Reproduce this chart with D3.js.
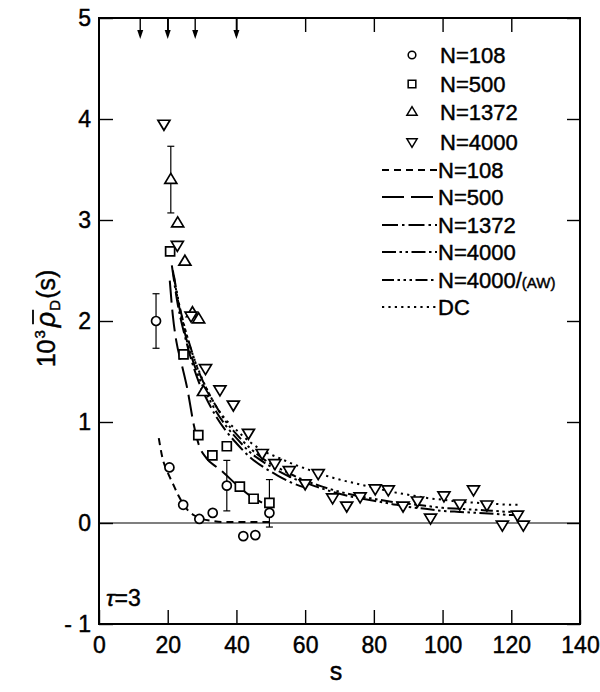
<!DOCTYPE html>
<html><head><meta charset="utf-8">
<script src="https://cdn.jsdelivr.net/npm/d3@7"></script>
<style>
body{margin:0;background:#fff}
svg{display:block}
text{font-family:"Liberation Sans",Arial,sans-serif;fill:#000;stroke:#000;stroke-width:0.45px}
</style>
</head><body>
<svg id="c" width="600" height="692"></svg>
<script>
// ---------- data ----------
const xTicks = [0, 20, 40, 60, 80, 100, 120, 140];
const yTicks = [-1, 0, 1, 2, 3, 4, 5];
const topTicks = [20, 40, 60, 80, 100, 120];
const arrowS = [12, 20, 28, 40];

// N=108 (circles)
const s108 = [16.6, 20.5, 24.5, 29.2, 33.1, 37.2, 42.0, 45.5, 49.6];
const v108 = [2.00, 0.55, 0.18, 0.04, 0.10, 0.37, -0.13, -0.12, 0.10];
// N=500 (squares)
const s500 = [20.7, 24.6, 28.9, 33.0, 37.2, 41.0, 45.0, 49.6];
const v500 = [2.69, 1.67, 0.87, 0.67, 0.76, 0.36, 0.24, 0.20];
// N=1372 (triangles up)
const s1372 = [20.9, 22.9, 25.0, 27.2, 29.0, 30.4];
const v1372 = [3.40, 2.97, 2.59, 2.08, 2.02, 1.30];
// N=4000 (triangles down)
const s4000 = [18.9, 22.8, 26.8, 31.0, 35.2, 39.1, 43.5, 47.5, 51.2, 55.4, 60.0, 63.8, 68.0, 72.1, 76.0, 80.4, 84.2, 88.5, 92.7, 96.5, 100.4, 105.0, 109.0, 112.9, 117.4, 121.8, 123.5];
const v4000 = [3.95, 2.75, 2.05, 1.53, 1.32, 1.17, 0.89, 0.69, 0.59, 0.52, 0.39, 0.49, 0.25, 0.17, 0.26, 0.34, 0.33, 0.17, 0.22, 0.05, 0.27, 0.19, 0.33, 0.18, -0.02, 0.08, -0.02];

// error bars
const errS = [16.6, 20.9, 37.2, 49.6];
const errV = [2.00, 3.40, 0.37, 0.195];
const errE = [0.27, 0.33, 0.25, 0.235];

// curves
const cS108 = [17.4, 18.5, 20, 21.5, 23, 24.5, 26, 28, 30, 33, 36, 40, 45, 50];
const cV108 = [0.84, 0.64, 0.50, 0.39, 0.28, 0.19, 0.12, 0.07, 0.04, 0.02, 0.01, 0.01, 0.01, 0.01];
const cS500 = [20.6, 21.5, 22.5, 24, 25.7, 27.6, 29, 31.3, 34, 36.2, 40, 44.4, 48.8, 50];
const cV500 = [2.40, 2.05, 1.80, 1.58, 1.33, 0.97, 0.78, 0.64, 0.56, 0.50, 0.38, 0.26, 0.18, 0.16];
const cS1372 = [21.2, 23, 25, 27, 29, 31, 34, 37, 40, 44, 48, 52, 56, 60];
const cV1372 = [2.55, 2.15, 1.85, 1.60, 1.40, 1.25, 1.06, 0.91, 0.79, 0.65, 0.55, 0.47, 0.40, 0.35];
const cS4000 = [21.5, 23, 25, 27, 29, 31, 34, 37, 40, 44, 48, 52, 56, 60, 65, 70, 75, 80, 85, 90, 95, 100, 105, 110, 115, 120, 122];
const cV4000 = [2.50, 2.20, 1.88, 1.64, 1.45, 1.30, 1.11, 0.96, 0.84, 0.70, 0.60, 0.52, 0.45, 0.40, 0.34, 0.29, 0.25, 0.22, 0.19, 0.16, 0.14, 0.12, 0.11, 0.10, 0.09, 0.08, 0.08];
const cSAW = [21.8, 23, 25, 27, 29, 31, 34, 37, 40, 44, 48, 52, 56, 60, 65, 70, 75, 80, 85, 90, 95, 100, 105, 110, 115, 120, 122];
const cVAW = [2.45, 2.22, 1.93, 1.70, 1.50, 1.35, 1.16, 1.00, 0.88, 0.74, 0.63, 0.55, 0.48, 0.42, 0.36, 0.31, 0.27, 0.24, 0.21, 0.19, 0.17, 0.15, 0.14, 0.13, 0.12, 0.11, 0.11];
const cSDC = [22.5, 24, 26, 28, 30, 33, 36, 40, 44, 48, 52, 56, 60, 65, 70, 75, 80, 85, 90, 95, 100, 105, 110, 115, 120, 122];
const cVDC = [2.30, 2.05, 1.80, 1.60, 1.43, 1.22, 1.06, 0.92, 0.80, 0.71, 0.65, 0.59, 0.54, 0.48, 0.43, 0.39, 0.35, 0.31, 0.28, 0.25, 0.23, 0.21, 0.20, 0.19, 0.18, 0.18];

const markerLabels = ["N=108", "N=500", "N=1372", "N=4000"];
const lineLabels = ["N=108", "N=500", "N=1372", "N=4000", "N=4000/", "DC"];

// ---------- drawing ----------
const svg = d3.select("#c");
const L = 99, R = 580, T = 18, B = 624;
const x = d3.scaleLinear().domain([0, 140]).range([L, R]);
const y = d3.scaleLinear().domain([-1, 5]).range([B, T]);

const shapes = {
  circle: "M4.5,0A4.5,4.5 0 1,1 -4.5,0A4.5,4.5 0 1,1 4.5,0Z",
  square: "M-4.5,-4.5H4.5V4.5H-4.5Z",
  up: "M-6,3.8L6,3.8L0,-6.2Z",
  down: "M-6,-3.8L6,-3.8L0,6.2Z"
};
const dashes = ["7,5", "22,7", "16,4,2.5,4", "14,3.5,2.5,3.5,2.5,3.5", "12,3.5,2.5,3.5,2.5,3.5,2.5,3.5", "2.2,4.2"];

// axes (inward ticks)
const fs = 23;
const ax = (g) => g.selectAll("text").attr("font-size", fs).style("font-family", '"Liberation Sans",Arial,sans-serif');
svg.append("g").attr("transform", `translate(0,${B})`)
  .call(d3.axisBottom(x).tickValues(xTicks).tickSizeInner(-14).tickSizeOuter(0).tickPadding(13))
  .call(g => g.select(".domain").remove()).call(ax)
  .call(g => g.selectAll("line").attr("stroke-width", 1.4));
svg.append("g").attr("transform", `translate(${L},0)`)
  .call(d3.axisLeft(y).tickValues(yTicks).tickSizeInner(-14).tickSizeOuter(0).tickPadding(8)
    .tickFormat(d => d < 0 ? "- 1" : d))
  .call(g => g.select(".domain").remove()).call(ax)
  .call(g => g.selectAll("line").attr("stroke-width", 1.4));
svg.append("g").attr("transform", `translate(0,${T})`)
  .call(d3.axisTop(x).tickValues(topTicks).tickSizeInner(-14).tickSizeOuter(0).tickFormat(""))
  .call(g => g.select(".domain").remove())
  .call(g => g.selectAll("line").attr("stroke-width", 1.4));
svg.append("g").attr("transform", `translate(${R},0)`)
  .call(d3.axisRight(y).tickValues(yTicks).tickSizeInner(-13).tickSizeOuter(0).tickFormat(""))
  .call(g => g.select(".domain").remove())
  .call(g => g.selectAll("line").attr("stroke-width", 1.4));

// frame
svg.append("rect").attr("x", L).attr("y", T).attr("width", R - L).attr("height", B - T)
  .attr("fill", "none").attr("stroke", "#000").attr("stroke-width", 2);

// zero line
svg.append("line").attr("x1", L).attr("x2", R).attr("y1", y(0)).attr("y2", y(0))
  .attr("stroke", "#000").attr("stroke-width", 1.1);

// arrows at top
const ag = svg.append("g");
arrowS.forEach(s => {
  const xs = x(s);
  ag.append("line").attr("x1", xs).attr("x2", xs).attr("y1", T).attr("y2", T + 18)
    .attr("stroke", "#000").attr("stroke-width", 1.4);
  ag.append("path").attr("d", `M${xs - 3},${T + 12}L${xs + 3},${T + 12}L${xs},${T + 21}Z`).attr("fill", "#000");
});

// curves
const line = d3.line().x(d => x(d[0])).y(d => y(d[1])).curve(d3.curveMonotoneX);
const curves = [[cS108, cV108], [cS500, cV500], [cS1372, cV1372], [cS4000, cV4000], [cSAW, cVAW], [cSDC, cVDC]];
curves.forEach((c, i) => {
  const pts = c[0].map((s, j) => [s, c[1][j]]);
  svg.append("path").attr("d", line(pts)).attr("fill", "none").attr("stroke", "#000")
    .attr("stroke-width", 2).attr("stroke-dasharray", dashes[i]);
});

// error bars
errS.forEach((s, i) => {
  const xs = x(s), y1 = y(errV[i] + errE[i]), y2 = y(errV[i] - errE[i]);
  const g = svg.append("g").attr("stroke", "#000").attr("stroke-width", 1.2);
  g.append("line").attr("x1", xs).attr("x2", xs).attr("y1", y1).attr("y2", y2);
  g.append("line").attr("x1", xs - 3.5).attr("x2", xs + 3.5).attr("y1", y1).attr("y2", y1);
  g.append("line").attr("x1", xs - 3.5).attr("x2", xs + 3.5).attr("y1", y2).attr("y2", y2);
});

// markers
const series = [[s108, v108, "circle"], [s500, v500, "square"], [s1372, v1372, "up"], [s4000, v4000, "down"]];
series.forEach(([ss, vv, sh]) => {
  svg.append("g").selectAll("path").data(ss.map((s, j) => [s, vv[j]])).join("path")
    .attr("d", shapes[sh]).attr("transform", d => `translate(${x(d[0])},${y(d[1])})`)
    .attr("fill", "#fff").attr("stroke", "#000").attr("stroke-width", 1.7);
});

// legend
const lg = svg.append("g");
const rowY = [55, 84, 112, 142, 170, 197, 225, 252, 280, 307];
const shapeKeys = ["circle", "square", "up", "down"];
markerLabels.forEach((t, i) => {
  lg.append("path").attr("d", shapes[shapeKeys[i]]).attr("transform", `translate(412,${rowY[i]}) scale(0.85)`)
    .attr("fill", "#fff").attr("stroke", "#000").attr("stroke-width", 1.8);
  lg.append("text").attr("x", 440).attr("y", rowY[i] + 8).attr("font-size", 22).text(t);
});
lineLabels.forEach((t, i) => {
  const yy = rowY[i + 4];
  lg.append("line").attr("x1", 382).attr("x2", 437).attr("y1", yy).attr("y2", yy)
    .attr("stroke", "#000").attr("stroke-width", 2).attr("stroke-dasharray", dashes[i]);
  const tx = lg.append("text").attr("x", 438).attr("y", yy + 8).attr("font-size", 22).text(t);
  if (i === 4) tx.append("tspan").attr("font-size", 15).text("(AW)");
});

// tau label
const tau = svg.append("text").attr("x", 106).attr("y", 606).attr("font-size", 23);
tau.append("tspan").attr("font-style", "italic").text("τ");
tau.append("tspan").text("=3");

// x label
svg.append("text").attr("x", 336).attr("y", 680).attr("text-anchor", "middle").attr("font-size", 25).text("s");

// y label (rotated)
const yl = svg.append("g").attr("transform", "translate(55,318) rotate(-90)");
const parts = [
  { t: "10", fs: 25, dy: 0 },
  { t: "3", fs: 15, dy: -10 },
  { t: "ρ", fs: 27, dy: 0, it: true, bar: true },
  { t: "D", fs: 15, dy: 5 },
  { t: "(s)", fs: 25, dy: 0 }
];
let cx = 0;
const made = parts.map(p => {
  const el = yl.append("text").attr("font-size", p.fs).attr("y", p.dy).text(p.t);
  if (p.it) el.attr("font-style", "italic");
  el.attr("x", cx);
  const w = el.node().getComputedTextLength();
  const res = { el, x0: cx, w, p };
  cx += w + (p.t === "3" ? 3 : 1);
  return res;
});
const off = -cx / 2;
made.forEach(m => {
  m.el.attr("x", m.x0 + off);
  if (m.p.bar) {
    yl.append("line").attr("x1", m.x0 + off + 3).attr("x2", m.x0 + off + m.w + 2)
      .attr("y1", -22).attr("y2", -22).attr("stroke", "#000").attr("stroke-width", 1.8);
  }
});
</script>
</body></html>
